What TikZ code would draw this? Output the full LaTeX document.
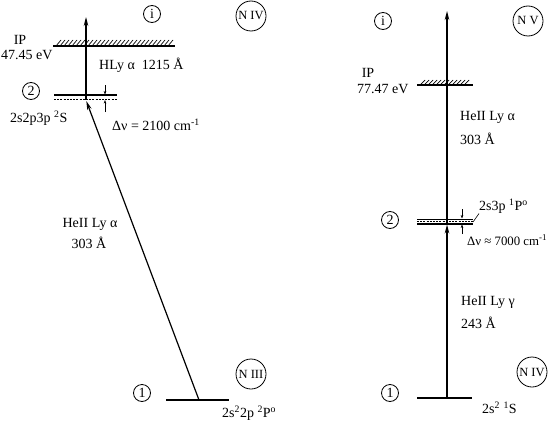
\documentclass[tikz,border=0pt]{standalone}
\usepackage{fontspec}
\setmainfont{Liberation Serif}
\usetikzlibrary{arrows.meta}
\begin{document}
\begin{tikzpicture}[x=1pt,y=-1pt,
  lvl/.style={line width=1.1pt},
  thinlvl/.style={line width=0.6pt},
  dashlvl/.style={line width=0.6pt,dash pattern=on 2pt off 1.2pt},
  hatch/.style={line width=0.7pt},
  trans/.style={line width=1.2pt,-{Stealth[length=9pt,width=4.5pt]}},
  gap/.style={line width=0.5pt,-{Stealth[length=3.5pt,width=2.6pt]}},
  lbl/.style={font=\fontsize{14}{16}\selectfont,inner sep=0pt},
  num/.style={circle,draw,line width=0.8pt,minimum size=17pt,inner sep=0pt,font=\fontsize{14}{16}\selectfont},
  ion/.style={circle,draw,line width=0.8pt,minimum size=30pt,inner sep=0pt,font=\fontsize{12.5}{14}\selectfont}]
\useasboundingbox (0,0) rectangle (551,420);

% ---------------- left panel (N III -> N IV) ----------------
\coordinate (ipLa) at (53,46);
\coordinate (ipLb) at (175,46);
\draw[lvl] (ipLa) -- (ipLb);
\foreach \x in {56,60,...,168} \draw[hatch] (\x,46) -- (\x+5,40);

\coordinate (l2a) at (54,95);
\coordinate (l2b) at (117,95);
\coordinate (l2c) at (54,99.5);
\coordinate (l2d) at (117,99.5);
\draw[lvl] (l2a) -- (l2b);
\draw[dashlvl] (l2c) -- (l2d);

\coordinate (l1a) at (166,400);
\coordinate (l1b) at (229,400);
\draw[lvl] (l1a) -- (l1b);

\coordinate (vL2) at (86,100);
\coordinate (vLtop) at (86,17);
\coordinate (gL1) at (199,400);
\coordinate (gL2) at (86.3,101);
\draw[trans] (vL2) -- (vLtop);
\draw[trans] (gL1) -- (gL2);

\coordinate (dLa) at (105,85);
\coordinate (dLb) at (105,94.5);
\coordinate (dLc) at (105,112);
\coordinate (dLd) at (105,100);
\draw[gap] (dLa) -- (dLb);
\draw[gap] (dLc) -- (dLd);

\node[num] (iL) at (152,14) {i};
\node[ion] (nivL) at (251,16) {N IV};
\node[num] (twoL) at (31,91) {2};
\node[num] (oneL) at (142,393) {1};
\node[ion] (niiiL) at (251,374) {N III};

\node[lbl] (ipLt) at (20,40) {IP};
\node[lbl,anchor=west] (ipLv) at (1,55) {47.45 eV};
\node[lbl,anchor=west] (hly) at (99,65) {HLy α\ \ 1215 Å};
\node[lbl,anchor=west] (cfgL2) at (10,118) {2s2p3p \textsuperscript{2}S};
\node[lbl,anchor=west] (dnuL) at (112,125) {Δν = 2100 cm\textsuperscript{-1}};
\node[lbl] (heiiL) at (90,224) {HeII Ly α};
\node[lbl] (waveL) at (89,243) {303 Å};
\node[lbl,anchor=west] (cfgL1) at (222,413) {2s\textsuperscript{2}2p \textsuperscript{2}P\textsuperscript{o}};

% ---------------- right panel (N IV -> N V) ----------------
\coordinate (ipRa) at (417,85);
\coordinate (ipRb) at (473,85);
\draw[lvl] (ipRa) -- (ipRb);
\foreach \x in {420,424,...,466} \draw[hatch] (\x,85) -- (\x+5,80);

\coordinate (r2a) at (417,219);
\coordinate (r2b) at (473,219);
\coordinate (r2c) at (417,221.2);
\coordinate (r2d) at (473,221.2);
\coordinate (r2e) at (417,224);
\coordinate (r2f) at (473,224);
\draw[thinlvl] (r2a) -- (r2b);
\draw[dashlvl] (r2c) -- (r2d);
\draw[lvl] (r2e) -- (r2f);

\coordinate (r1a) at (417,398);
\coordinate (r1b) at (472,398);
\draw[lvl] (r1a) -- (r1b);

\coordinate (vR1) at (447,398);
\coordinate (vR2) at (447,224.5);
\coordinate (vR2s) at (447,224);
\coordinate (vRtop) at (447,11);
\draw[trans] (vR1) -- (vR2);
\draw[trans] (vR2s) -- (vRtop);

\coordinate (dRa) at (462,209);
\coordinate (dRb) at (462,218.5);
\coordinate (dRc) at (462,234);
\coordinate (dRd) at (462,224.5);
\draw[gap] (dRa) -- (dRb);
\draw[gap] (dRc) -- (dRd);

\node[num] (iR) at (383,21) {i};
\node[ion] (nvR) at (528,21) {N V};
\node[num] (twoR) at (390,220) {2};
\node[num] (oneR) at (390,393) {1};
\node[ion] (nivR) at (532,372) {N IV};

\node[lbl] (ipRt) at (368,73) {IP};
\node[lbl,anchor=west] (ipRv) at (357,89) {77.47 eV};
\node[lbl,anchor=west] (heiiR) at (460,117) {HeII Ly α};
\node[lbl,anchor=west] (waveR) at (460,139) {303 Å};
\node[lbl,anchor=west] (cfgR2) at (479,206) {2s3p \textsuperscript{1}P\textsuperscript{o}};
\coordinate (leadR) at (473,222);
\draw[thinlvl] (leadR) -- (cfgR2.south west);
\node[lbl,anchor=west,font=\fontsize{12.8}{15}\selectfont] (dnuR) at (467,240) {Δν ≈ 7000 cm\textsuperscript{-1}};
\node[lbl,anchor=west] (heiigR) at (461,302) {HeII Ly γ};
\node[lbl,anchor=west] (waveRg) at (461,323) {243 Å};
\node[lbl,anchor=west] (cfgR1) at (482,408) {2s\textsuperscript{2} \textsuperscript{1}S};
\end{tikzpicture}
\end{document}
